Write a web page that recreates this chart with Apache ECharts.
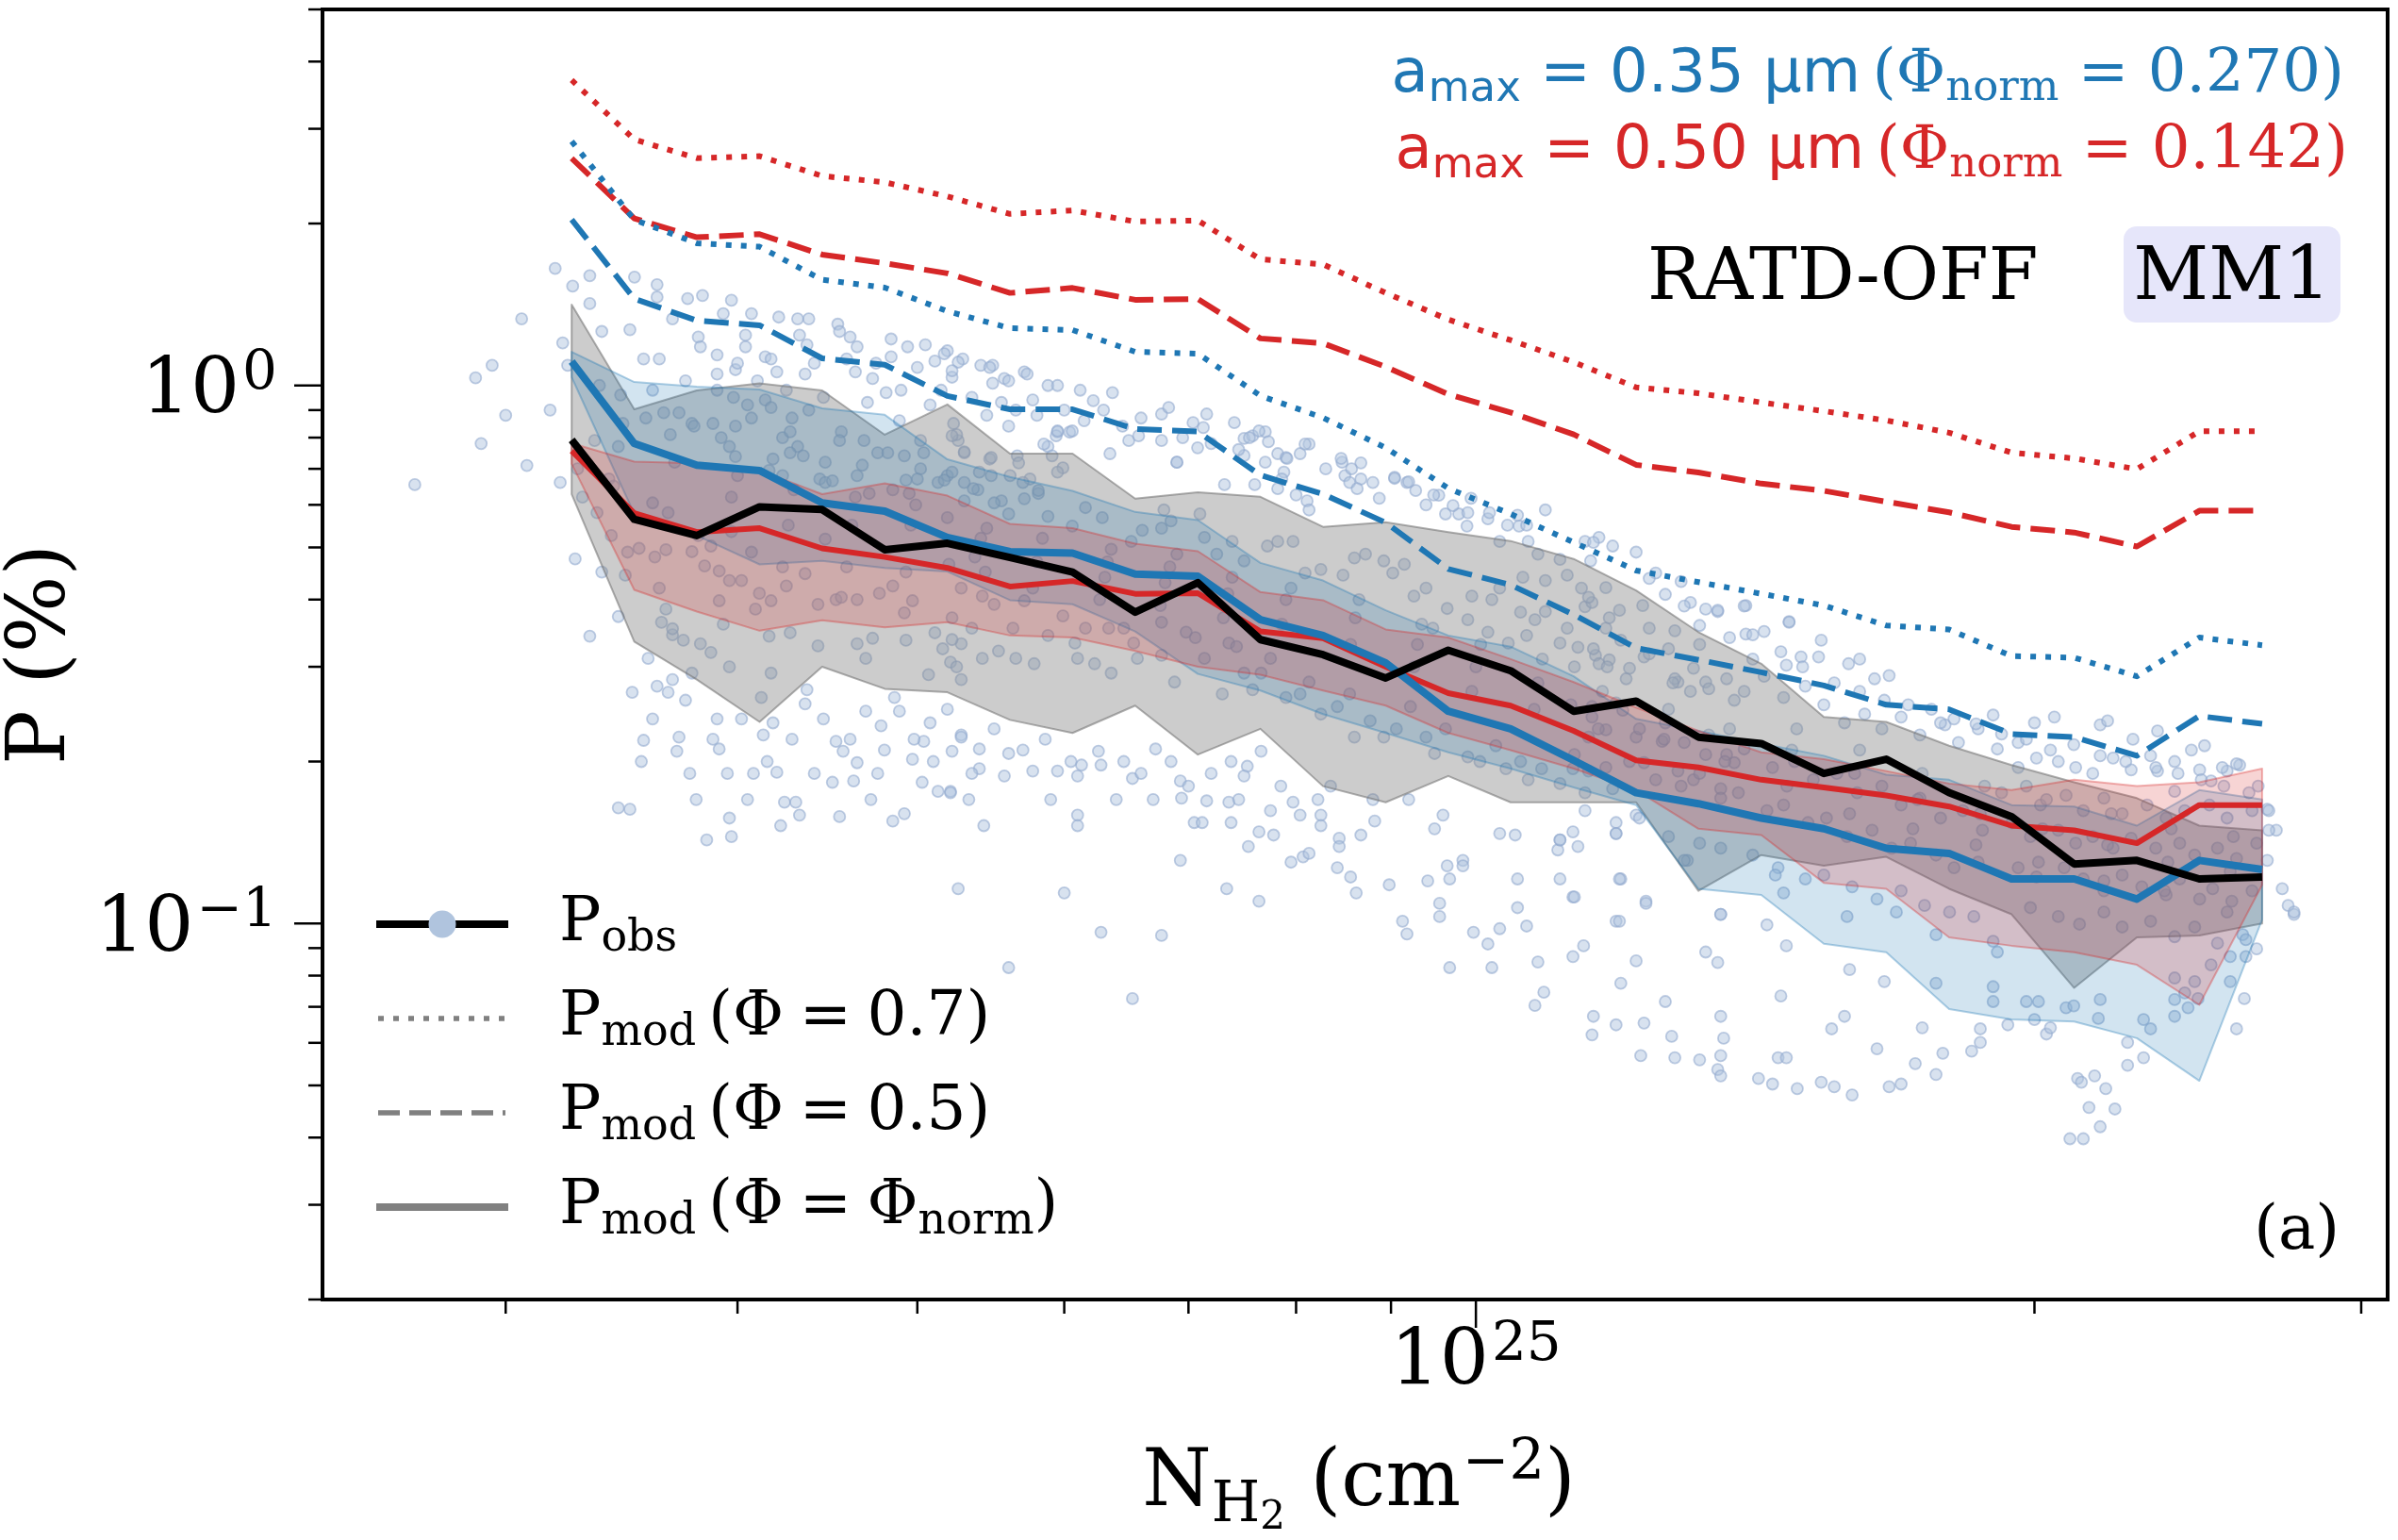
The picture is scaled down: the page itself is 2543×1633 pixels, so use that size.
<!DOCTYPE html>
<html><head><meta charset="utf-8">
<script src="https://cdn.jsdelivr.net/npm/echarts@6/dist/echarts.min.js"></script>
<style>html,body{margin:0;padding:0;background:#fff;}#chart{width:2543px;height:1633px;}</style>
</head><body><div id="chart"></div>
<script>
// ---------------- DATA ----------------
const X_UNIT = 1e24;            // N_H2 values below are in units of 1e24 cm^-2
const X_MIN = 2.39, X_MAX = 31.0;
const Y_MIN = 0.02, Y_MAX = 5;

const xBins = [3.256,3.519,3.803,4.111,4.443,4.802,5.190,5.609,6.062,6.552,7.082,7.654,8.272,8.941,9.663,10.44,11.29,12.20,13.18,14.25,15.40,16.64,17.99,19.44,21.01,22.71,24.54,26.53];

const pObs    = [0.792,0.564,0.526,0.595,0.588,0.495,0.509,0.479,0.450,0.379,0.430,0.337,0.316,0.286,0.322,0.295,0.248,0.259,0.222,0.216,0.190,0.202,0.175,0.158,0.129,0.131,0.121,0.122];
const pObsLo  = [0.628,0.334,0.284,0.237,0.300,0.273,0.269,0.239,0.226,0.254,0.206,0.230,0.180,0.168,0.188,0.168,0.168,0.168,0.115,0.134,0.128,0.133,0.116,0.104,0.0759,0.0942,0.0950,0.100];
const pObsHi  = [1.414,0.903,0.979,1.009,0.979,0.810,0.922,0.747,0.747,0.616,0.633,0.621,0.546,0.557,0.534,0.514,0.476,0.416,0.348,0.304,0.242,0.237,0.214,0.197,0.183,0.171,0.152,0.149];

const pModBlueNorm = [1.108,0.780,0.711,0.695,0.605,0.584,0.522,0.491,0.488,0.446,0.442,0.367,0.343,0.305,0.248,0.230,0.201,0.175,0.167,0.157,0.150,0.138,0.135,0.121,0.121,0.111,0.131,0.126];
const pModBlueLo   = [1.036,0.577,0.526,0.465,0.472,0.458,0.451,0.399,0.392,0.349,0.291,0.271,0.245,0.226,0.208,0.194,0.179,0.166,0.116,0.113,0.0917,0.0884,0.0693,0.0663,0.0657,0.0612,0.0510,0.1017];
const pModBlueHi   = [1.155,1.015,0.995,0.983,0.907,0.882,0.729,0.676,0.637,0.582,0.562,0.468,0.434,0.382,0.343,0.327,0.288,0.240,0.228,0.216,0.205,0.189,0.185,0.166,0.165,0.152,0.177,0.170];
const pModBlue07   = [2.842,2.033,1.838,1.811,1.572,1.520,1.374,1.278,1.268,1.155,1.146,0.957,0.871,0.766,0.644,0.577,0.511,0.453,0.431,0.410,0.390,0.358,0.352,0.314,0.312,0.288,0.340,0.329];
const pModBlue05   = [2.033,1.450,1.320,1.294,1.123,1.093,0.956,0.903,0.903,0.830,0.821,0.681,0.628,0.556,0.456,0.426,0.375,0.325,0.309,0.293,0.277,0.255,0.250,0.225,0.222,0.205,0.243,0.235];

const pModRedNorm = [0.756,0.579,0.534,0.543,0.498,0.480,0.458,0.423,0.433,0.410,0.411,0.349,0.339,0.300,0.268,0.254,0.228,0.201,0.195,0.185,0.179,0.173,0.165,0.152,0.149,0.141,0.166,0.166];
const pModRedLo   = [0.715,0.417,0.380,0.350,0.366,0.355,0.363,0.343,0.340,0.321,0.300,0.290,0.271,0.254,0.226,0.210,0.194,0.177,0.150,0.146,0.119,0.116,0.0942,0.0909,0.0884,0.0838,0.0706,0.118];
const pModRedHi   = [0.781,0.722,0.717,0.695,0.628,0.658,0.624,0.553,0.543,0.508,0.492,0.413,0.399,0.352,0.340,0.310,0.281,0.252,0.228,0.208,0.202,0.192,0.182,0.177,0.185,0.180,0.183,0.194];
const pModRed07   = [3.695,2.865,2.646,2.668,2.451,2.386,2.246,2.084,2.115,2.017,2.026,1.716,1.679,1.486,1.326,1.214,1.105,0.992,0.967,0.930,0.896,0.861,0.817,0.750,0.732,0.699,0.822,0.822];
const pModRed05   = [2.643,2.044,1.886,1.911,1.751,1.687,1.616,1.486,1.518,1.443,1.448,1.223,1.198,1.083,0.963,0.891,0.811,0.712,0.689,0.657,0.637,0.608,0.581,0.546,0.533,0.502,0.585,0.585];

// observed pixels [N_H2 (1e24 cm^-2), P (%)]
const obsPoints = [
[2.68,0.654],[2.91,0.78],[2.89,1.033],[2.95,1.09],[3.06,1.33],[3.0,0.88],[3.08,0.71],[3.17,0.90],[3.19,1.65],[3.21,0.66],[3.22,1.2],[3.26,1.53],[3.33,1.6],[3.33,1.42],[3.24,1.09],[3.38,1.26],[3.5,1.27],[3.52,1.59],[3.62,1.54],[3.62,1.46],[3.69,1.33],[3.76,1.45],[3.83,1.47],[3.56,1.12],[3.63,1.12],[3.81,1.23],[3.82,1.18],[3.9,1.14],[3.9,1.05],[3.93,1.36],[3.97,1.44],[3.99,1.07],[4.04,1.24],[4.04,1.18],[4.07,1.36],[4.14,1.13],[4.17,1.12],[4.2,1.06],[4.21,1.34],[4.31,1.33],[4.37,1.33],[4.32,1.24],[4.36,1.19],[4.35,1.05],[4.53,1.3],[4.54,1.26],[4.6,1.23],[4.64,1.18],[4.63,1.06],[4.73,1.03],[4.84,1.22],[4.84,1.13],[4.94,1.18],[5.05,1.19],[5.11,1.11],[5.19,1.16],[5.22,1.036],[5.29,1.12],[5.41,1.09],[5.49,1.09],[5.49,1.01],[5.57,1.03],[5.6,0.84],[5.71,1.06],[5.77,0.94],[5.88,1.0],[5.88,0.77],[5.95,0.82],
[3.37,1.0],[3.46,0.96],[3.35,0.79],[3.45,0.77],[3.57,0.87],[3.65,0.89],[3.72,0.89],[3.68,0.81],[3.78,0.85],[3.79,0.84],[3.88,0.85],[3.92,0.80],[3.98,0.95],[3.96,0.77],[3.99,0.84],[4.05,0.92],[4.07,0.87],[4.14,0.94],[4.17,0.91],[4.23,0.80],[4.28,0.87],[4.27,0.82],[4.31,0.77],[4.34,0.74],[4.37,0.90],[4.18,0.73],[4.23,0.68],[4.43,0.67],[4.46,0.66],[4.55,0.82],[4.54,0.79],[4.68,0.79],[4.76,0.75],[4.81,0.97],[4.92,0.74],[5.02,0.79],[5.02,0.70],[5.13,0.66],[5.19,0.68],[5.3,0.75],[5.39,0.64],[5.47,0.73],[5.55,0.61],[5.61,0.68],[5.75,0.67],[5.81,0.63],[5.91,0.74],[5.66,0.74],[5.23,0.85],[5.26,0.79],[4.89,0.86],[4.64,0.68],[4.46,0.72],[4.71,0.63],[4.85,0.64],[4.95,0.63],[5.0,0.67],
[3.27,0.476],[3.33,0.342],[3.45,0.372],[3.48,0.444],[3.51,0.269],[3.56,0.219],[3.58,0.311],[3.45,0.164],[3.5,0.163],[3.62,0.276],[3.67,0.269],[3.69,0.284],[3.71,0.209],[3.72,0.222],[3.64,0.363],[3.69,0.344],[3.74,0.336],[3.82,0.331],[3.77,0.19],[3.78,0.292],[3.87,0.319],[3.9,0.24],[3.91,0.211],[3.95,0.19],[3.96,0.30],[3.96,0.157],[3.97,0.145],[3.85,0.143],[4.08,0.19],[4.12,0.263],[4.13,0.224],[4.17,0.292],[4.18,0.236],[4.2,0.191],[4.24,0.168],[4.3,0.168],[4.22,0.152],[4.32,0.159],[4.36,0.272],[4.35,0.256],[4.42,0.328],[4.52,0.218],[4.56,0.209],[4.5,0.183],[4.54,0.158],[4.62,0.184],[4.64,0.199],[4.69,0.311],[4.69,0.248],[4.76,0.19],[4.78,0.233],[4.85,0.155],[4.86,0.263],[4.89,0.248],[4.92,0.16],[4.97,0.202],[5.03,0.183],[5.04,0.218],[5.08,0.236],[5.13,0.176],[5.21,0.176],[5.22,0.209],[5.28,0.224],[5.28,0.284],[5.19,0.25],
[3.42,0.526],[3.49,0.49],[3.54,0.498],[3.6,0.605],[3.61,0.48],[3.66,0.495],[3.66,0.384],[3.69,0.353],[3.78,0.491],[3.81,0.526],[3.84,0.462],[3.87,0.503],[3.91,0.452],[3.91,0.398],[3.96,0.434],[3.97,0.535],[4.02,0.434],[4.07,0.49],[4.09,0.384],[4.11,0.411],[4.16,0.342],[4.17,0.398],[4.25,0.424],[4.27,0.347],[4.35,0.447],[4.42,0.392],[4.46,0.518],[4.52,0.40],[4.55,0.404],[4.64,0.331],[4.64,0.40],[4.73,0.339],[4.77,0.411],[4.85,0.424],[4.92,0.378],[4.93,0.336],[4.97,0.398],[5.07,0.29],[5.11,0.347],[5.16,0.324],[5.22,0.37],[5.28,0.331],[5.21,0.306],[5.25,0.30],
[3.99,0.738],[4.16,0.695],[4.27,0.75],[4.5,0.665],[4.67,0.711],[4.82,0.75],[4.93,0.667],[5.17,0.667],[5.04,0.75],[5.25,0.81],[3.3,0.62],[3.36,0.58],[3.41,0.67],[3.28,0.7],
[5.22,0.806],[5.3,0.753],[5.48,0.735],[5.67,0.718],[5.22,0.69],[5.4,0.69],[5.3,0.66],[5.48,0.68],[5.7,0.66],[5.94,0.806],[5.85,0.778],[6.04,0.819],[5.99,0.703],[5.95,0.69],[6.35,0.747],[6.5,0.79],[6.77,0.79],[6.9,0.72],[7.08,0.766],[7.32,0.654],[7.5,0.797],[7.58,0.806],[7.7,0.82],[7.5,0.741],[7.82,0.747],[7.9,0.735],[8.04,0.747],[8.13,0.778],[7.88,0.69],[7.86,0.67],[8.11,0.61],[8.13,0.587],[8.47,0.72],[8.5,0.68],[8.67,0.718],[8.67,0.67],[8.55,0.66],[9.04,0.675],[9.18,0.66],[9.55,0.625],[9.28,0.638],[9.63,0.577],[9.79,0.577],[9.89,0.548],[10.15,0.565],[10.3,0.513],[10.55,0.548],[10.67,0.513],[10.8,0.486],[10.9,0.587],[11.1,0.475],[11.45,0.513],[11.53,0.472],[11.65,0.522],
[5.19,0.568],[5.3,0.61],[5.36,0.643],[5.5,0.605],[5.45,0.543],[5.6,0.577],[5.71,0.616],[5.81,0.638],[5.88,0.571],[6.06,0.548],[6.16,0.593],[6.29,0.568],[6.36,0.496],[6.52,0.513],[6.61,0.538],[6.77,0.543],[6.79,0.587],[6.85,0.56],[6.9,0.486],[7.1,0.577],[7.14,0.522],[7.25,0.486],[7.39,0.513],[7.5,0.472],[7.72,0.503],[7.82,0.513],[7.97,0.513],[8.09,0.448],[8.25,0.455],[8.48,0.444],[8.6,0.478],[8.72,0.486],[8.92,0.472],[9.02,0.448],[9.15,0.465],[9.26,0.406],[9.4,0.42],[9.48,0.354],[9.65,0.385],[9.9,0.367],[9.95,0.406],[10.15,0.348],[10.3,0.42],[10.41,0.332],[10.57,0.379],[10.65,0.343],[10.76,0.367],[10.9,0.434],[11.1,0.332],[11.2,0.354],[11.3,0.30],[11.45,0.388],[11.6,0.315],[11.55,0.253],
[5.2,0.465],[5.28,0.42],[5.42,0.406],[5.22,0.337],[5.35,0.354],[5.5,0.392],[5.42,0.311],[5.63,0.354],[5.71,0.398],[5.53,0.321],[5.65,0.311],[5.78,0.304],[5.88,0.343],[5.99,0.373],[6.08,0.332],[6.1,0.311],[6.16,0.354],[6.23,0.304],[6.34,0.354],[6.36,0.292],[6.46,0.354],[6.54,0.332],[6.57,0.311],[6.77,0.363],[6.77,0.315],[6.88,0.281],[6.98,0.348],[7.06,0.34],[7.14,0.311],[7.3,0.267],[7.36,0.332],[7.43,0.327],[7.5,0.292],[7.58,0.272],[7.66,0.292],[7.75,0.311],[7.9,0.263],[8.04,0.267],[8.13,0.281],[8.25,0.245],[8.42,0.253],[8.55,0.267],[8.6,0.222],[8.77,0.238],[8.92,0.222],[9.06,0.23],[9.22,0.253],[9.4,0.222],[9.5,0.207],[9.63,0.23],[9.9,0.204],[10.05,0.2],[10.25,0.214],[10.38,0.194],[10.57,0.2],[10.67,0.185],[10.85,0.194],[11.1,0.182],[11.28,0.194],[11.45,0.175],
[5.28,0.222],[5.4,0.211],[5.6,0.207],[5.21,0.175],[5.33,0.170],[5.43,0.152],[5.4,0.194],[5.57,0.188],[5.77,0.192],[5.86,0.22],[5.95,0.192],[6.1,0.188],[6.13,0.197],[6.26,0.209],[6.28,0.197],[6.53,0.186],[6.72,0.211],[6.7,0.170],[6.1,0.159],[6.1,0.152],[6.46,0.2],[6.93,0.184],[6.94,0.171],[7.05,0.154],[7.12,0.154],[7.16,0.169],[7.36,0.168],[7.38,0.154],[7.38,0.2],[7.53,0.196],[7.5,0.188],[7.66,0.209],[7.54,0.139],[7.64,0.148],[7.78,0.146],[7.75,0.162],[7.97,0.168],[8.04,0.159],[8.22,0.170],[8.25,0.159],[8.25,0.152],[7.95,0.130],[8.07,0.133],[8.13,0.135],[8.42,0.127],[8.56,0.122],[8.62,0.114],[8.44,0.144],[8.44,0.139],[8.67,0.146],[8.82,0.155],[8.98,0.118],[9.13,0.101],[9.18,0.0956],[9.42,0.12],[9.56,0.109],[9.56,0.103],[9.68,0.121],[9.84,0.131],[9.6,0.159],[9.68,0.0828],[9.97,0.0963],[10.15,0.0916],[10.2,0.0828],[10.3,0.0978],[10.53,0.121],[10.53,0.107],[10.65,0.0989],[10.8,0.0848],[10.88,0.0745],[10.76,0.0704],[11.1,0.121],[11.28,0.112],[11.43,0.0909],[11.28,0.0868],[11.07,0.137],[11.28,0.148],[11.1,0.143],[10.3,0.147],[10.5,0.146],[9.84,0.128],[9.65,0.128],
[5.26,0.116],[5.6,0.0828],[6.0,0.114],[6.28,0.0963],[6.77,0.095],[6.53,0.0725],[6.93,0.131],[7.34,0.116],[7.64,0.11],
[5.17,1.145],[5.26,1.105],[5.22,1.065],[5.47,1.08],[5.73,1.05],[5.6,1.02],[5.95,1.0],[6.12,0.98],[6.22,0.937],[6.37,0.97],[5.95,0.823],[6.06,0.823],[6.58,0.806],[6.77,0.885],[6.83,0.91],[7.04,0.853],[7.16,0.885],[7.13,0.835],[6.9,0.72],[7.41,0.853],[7.55,0.8],[7.64,0.823],[7.73,0.786],[7.91,0.732],[8.09,0.778],[8.46,0.732],[8.57,0.7],[8.63,0.643],[8.87,0.617],[9.04,0.672],[9.2,0.662],[9.49,0.626],[9.72,0.598],[9.94,0.617],[10.17,0.58],[10.53,0.574],[10.65,0.55],[7.82,0.643],[8.0,0.626],[7.6,0.654],
[11.57,0.511],[11.85,0.503],[12.2,0.49],[12.5,0.448],[12.9,0.432],[13.3,0.384],[13.5,0.38],[13.05,0.395],[13.98,0.39],[14.75,0.364],[13.98,0.345],[14.3,0.349],[15.35,0.336],[14.97,0.313],[15.3,0.313],[14.7,0.302],[15.88,0.304],[16.1,0.31],[16.4,0.285],[16.7,0.289],[17.9,0.234],[19.0,0.244],[20.0,0.236],[20.5,0.242],[21.7,0.234],[21.9,0.238],[23.3,0.228],[24.3,0.21],[24.7,0.214],[25.4,0.192],[25.8,0.197],[22.6,0.22],[23.3,0.192],[23.8,0.176],[24.9,0.184],
[11.55,0.395],[11.75,0.354],[11.97,0.336],[11.57,0.324],[11.65,0.304],[12.05,0.285],[12.4,0.354],[12.32,0.313],[12.7,0.324],[12.85,0.281],[13.05,0.27],[13.3,0.281],[11.9,0.257],[11.5,0.222],[11.75,0.229],[12.2,0.222],[12.6,0.218],[12.32,0.199],[12.85,0.192],[13.1,0.185],[13.55,0.178],[13.3,0.206],[13.78,0.199],[11.5,0.192],[11.85,0.178],[12.2,0.159],[11.9,0.147],[12.35,0.11],[11.97,0.121],[11.9,0.101],[12.2,0.0852],[11.97,0.0774],[12.65,0.0716],[11.57,0.0672],[11.9,0.0648],[12.32,0.0653],[11.55,0.0621],[12.27,0.0568],[12.75,0.0617],[12.8,0.0563],[13.2,0.0558],[13.55,0.0672],[13.6,0.0612],[13.55,0.0568],[13.5,0.0535],[13.55,0.0521],[13.0,0.131],[13.55,0.104],[13.3,0.0885],[13.5,0.0846],[14.35,0.0994],[14.7,0.0909],[14.2,0.0515],[14.45,0.0503],[14.55,0.0563],[14.7,0.0563],[14.6,0.0733],[14.9,0.0493],[15.35,0.0507],[15.6,0.0497],[15.95,0.048],[15.8,0.0672],[15.55,0.0637],[15.9,0.0821],[16.45,0.0585],[16.6,0.078],[16.7,0.0497],[16.95,0.0503],[17.25,0.0549],[17.4,0.064],[17.7,0.0774],[17.7,0.0524],[17.85,0.0574],[18.5,0.0579],[18.7,0.0637],[18.7,0.0601],[19.0,0.0763],[19.0,0.0716],[19.0,0.0927],[19.1,0.0885],[19.35,0.0648],[19.8,0.0716],[20.1,0.0716],[20.0,0.0663],[20.3,0.0623],[20.4,0.064],[20.8,0.0697],[21.0,0.0703],[21.1,0.0515],[21.2,0.0507],[21.55,0.0521],[21.4,0.0455],[21.85,0.0493],[22.1,0.0452],[21.7,0.0419],[20.9,0.0398],[21.25,0.0398],[21.65,0.0666],[21.7,0.0722],[22.45,0.0601],[22.45,0.0545],[22.9,0.0563],[23.1,0.0637],[22.9,0.0663],[23.8,0.0672],[24.2,0.0697],[24.5,0.0725],[24.4,0.078],[23.8,0.0722],
[19.6,0.195],[20.05,0.203],[20.6,0.2],[21.05,0.195],[21.5,0.19],[22.05,0.203],[22.55,0.193],[23.25,0.195],[23.8,0.2],[24.55,0.193],[25.25,0.195],[25.7,0.198],[26.4,0.18],
[19.2,0.175],[19.8,0.18],[20.15,0.166],[20.8,0.173],[21.25,0.162],[21.8,0.171],[22.3,0.16],[23.0,0.166],[23.55,0.157],[24.1,0.162],[24.85,0.166],[25.4,0.157],[26.2,0.162],
[19.45,0.154],[19.9,0.145],[20.6,0.149],[21.05,0.141],[21.5,0.145],[22.05,0.138],[22.55,0.144],[23.25,0.138],[23.95,0.141],[24.4,0.134],[25.1,0.138],[25.7,0.132],[26.35,0.141],
[19.6,0.127],[20.05,0.122],[20.75,0.127],[21.25,0.121],[21.8,0.115],[22.3,0.123],[22.85,0.117],[23.55,0.113],[23.95,0.121],[24.55,0.111],[24.95,0.116],[25.55,0.11],[26.2,0.115],
[19.9,0.107],[20.6,0.103],[21.15,0.0997],[21.8,0.105],[22.3,0.0985],[23.1,0.101],[23.8,0.0945],[24.4,0.0985],[25.1,0.0919],[25.9,0.0953],[26.35,0.0897],
[23.8,0.0792],[24.1,0.0743],[24.9,0.0838],[25.5,0.0868],[25.5,0.078],[26.0,0.0933],[26.0,0.0868],[25.95,0.0725],[25.7,0.0637],
[26.7,0.163],[27.0,0.149],[26.7,0.131],[27.2,0.116],[27.4,0.108],[27.6,0.104],[27.6,0.105],[26.75,0.162],[26.75,0.149],
[11.2,0.444],[11.5,0.404],[11.75,0.421],[11.95,0.382],[12.4,0.438],[12.65,0.409],[12.95,0.389],[13.2,0.358],[13.5,0.382],[13.95,0.389],[14.1,0.344],[14.75,0.363],[11.35,0.326],[11.8,0.309],[12.1,0.298],[12.4,0.317],[12.8,0.285],[13.1,0.298],[13.35,0.273],[13.65,0.285],[13.95,0.27],[14.3,0.288],[14.65,0.263],[15.05,0.276],[15.4,0.255],[15.8,0.236],[16.2,0.245],[16.55,0.23],[16.95,0.242],[17.35,0.224],[17.8,0.236],[18.2,0.217],[18.65,0.23],[19.1,0.211],[19.6,0.217],
[11.25,0.255],[11.55,0.242],[12.0,0.249],[12.25,0.23],[12.65,0.236],[12.95,0.217],[13.35,0.224],[13.65,0.206],[13.95,0.211],[14.45,0.195],[14.85,0.2],[15.2,0.185],[15.65,0.19],[16.05,0.175],[16.55,0.18],[16.95,0.166],[17.35,0.171],[17.8,0.157],[18.3,0.162],[18.75,0.149],
[11.3,0.206],[11.75,0.195],[12.1,0.2],[12.5,0.185],[12.9,0.18],[13.2,0.19],[13.55,0.171],[13.85,0.175],[14.35,0.162],[14.65,0.166],[15.1,0.154],[15.45,0.157],[15.85,0.145],[16.35,0.149],[16.75,0.138],[17.15,0.141],[17.7,0.134],[18.1,0.127],[18.65,0.13],
[11.45,0.162],[11.9,0.154],[12.25,0.157],[12.7,0.145],[13.2,0.141],[13.55,0.138],[14.1,0.134],[14.55,0.127],[15.05,0.121],[15.4,0.123],[15.95,0.117],[16.45,0.111],[16.95,0.115],[17.45,0.108],[18.0,0.105],[18.55,0.103],
[11.1,0.143],[11.35,0.139],[11.9,0.147],[11.3,0.112],[11.95,0.121],[12.35,0.109],[11.95,0.101],[12.95,0.131],[13.55,0.104],[14.5,0.123],[14.65,0.114],[15.85,0.103],[16.85,0.105],[17.7,0.0953],
[3.38,0.45],[3.43,0.65],[3.47,0.85],[3.63,0.42],[3.67,0.58],[3.7,0.72],[3.93,0.36],[3.97,0.62],[4.0,0.68],[4.23,0.46],[4.26,0.55],[4.29,0.64],[4.58,0.46],[4.61,0.55],[4.63,0.62],[4.93,0.45],[4.96,0.55],[4.99,0.60],[5.37,0.48],[5.41,0.52],[5.44,0.45],[5.77,0.42],[5.8,0.47],[5.84,0.52],[6.27,0.40],[6.31,0.44],[6.33,0.47],[6.76,0.39],[6.8,0.43],[6.84,0.46],[7.31,0.37],[7.35,0.41],[7.39,0.44],[7.86,0.36],[7.9,0.40],[7.95,0.42],[8.56,0.33],[8.61,0.37],[8.65,0.40],[9.26,0.30],[9.3,0.33],[9.35,0.36],[9.95,0.27],[10.0,0.30],[10.06,0.33],[10.75,0.25],[10.8,0.28],[10.86,0.31],[11.64,0.23],[11.7,0.27],[11.77,0.30],[12.63,0.22],[12.7,0.25],[12.77,0.28],[13.62,0.20],[13.7,0.23],[13.78,0.26],[14.71,0.18],[14.8,0.21],[14.89,0.23],[15.9,0.16],[16.0,0.19],[16.1,0.21],[17.2,0.15],[17.3,0.17],[17.4,0.19],[18.6,0.14],[18.7,0.16],[18.8,0.18],[20.1,0.13],[20.2,0.15],[20.3,0.17],[21.8,0.12],[21.9,0.14],[22.0,0.16],[23.5,0.115],[23.6,0.13],[23.7,0.15],[25.4,0.105],[25.5,0.125],[25.6,0.145],
[4.1,1.02],[4.25,0.98],[4.4,1.1],[4.45,0.95],[4.58,1.12],[4.7,0.93],[4.75,1.1],[4.9,0.98],[5.0,1.08],[5.08,0.92],[5.15,0.98],[5.35,0.95],[5.45,0.88],[5.55,0.93],[5.65,0.9],[5.8,0.88],[6.0,0.9],[6.15,0.86],[6.3,0.9],[6.45,0.84],[6.6,0.87],[6.95,0.8],[7.2,0.78],[7.45,0.76],[7.7,0.72],[8.3,0.7],[8.8,0.66],[9.4,0.6],[9.9,0.58],[10.4,0.55],[3.9,0.98],[4.0,1.1],[3.75,1.02],[3.6,0.98],
[3.55,0.2],[3.6,0.24],[3.75,0.26],[3.8,0.17],[3.88,0.22],[4.02,0.24],[4.05,0.17],[4.15,0.2],[4.28,0.22],[4.4,0.19],[4.45,0.24],[4.6,0.22],[4.72,0.17],[4.8,0.21],[4.98,0.22],[5.1,0.2],[5.35,0.19],[5.5,0.23],[5.7,0.21],[5.9,0.17],[6.05,0.2],[6.4,0.17],[6.6,0.19],[6.85,0.2],[7.0,0.18],[7.2,0.19],[7.45,0.17],[7.85,0.18],[8.35,0.18],[8.8,0.17],[9.2,0.17],[9.5,0.15],
[10.2,0.4],[10.6,0.44],[10.9,0.38],[11.4,0.42],[11.8,0.37],[12.3,0.39],[12.8,0.35],[13.2,0.33],[13.7,0.34],[14.1,0.31],[14.6,0.32],[15.0,0.3],[15.6,0.28],[16.1,0.27],[16.6,0.26],[17.1,0.255],[17.6,0.25],[18.1,0.24],[18.6,0.235],[19.2,0.225],[19.8,0.22],[20.4,0.21],[21.0,0.215],[21.7,0.205],[22.4,0.2],[23.1,0.205],[23.9,0.19],[24.6,0.185],[25.3,0.18],[26.1,0.175]
];

// axis ticks (in axis units; x in 1e24 cm^-2)
const xMajorTicks = [10];
const xMinorTicks = [3,4,5,6,7,8,9,20,30];
const yMajorTicks = [0.1,1];
const yMinorTicks = [0.02,0.03,0.04,0.05,0.06,0.07,0.08,0.09,0.2,0.3,0.4,0.5,0.6,0.7,0.8,0.9,2,3,4,5];

// ---------------- STYLE ----------------
const SERIF = '"DejaVu Serif", serif';
const SANS = '"DejaVu Sans", sans-serif';
const C_BLUE = '#1f77b4', C_RED = '#d62728';

const chart = echarts.init(document.getElementById('chart'), null, {renderer: 'canvas'});

function pairs(ys) { return xBins.map((x, i) => [x * X_UNIT, ys[i]]); }

function lineSeries(name, ys, color, width, type, z) {
  return {type: 'line', name, data: pairs(ys), symbol: 'none', silent: true, z: z || 4,
    lineStyle: {color, width, type: type || 'solid', cap: 'butt', join: 'round'}};
}

function bandSeries(name, lo, hi, fill, stroke) {
  return {type: 'custom', name, z: 3, silent: true, clip: true,
    data: [[xBins[0] * X_UNIT, lo[0]]],
    renderItem: function (params, api) {
      const pts = [];
      for (let i = 0; i < xBins.length; i++) pts.push(api.coord([xBins[i] * X_UNIT, hi[i]]));
      for (let i = xBins.length - 1; i >= 0; i--) pts.push(api.coord([xBins[i] * X_UNIT, lo[i]]));
      return {type: 'polygon', shape: {points: pts}, style: {fill, stroke, lineWidth: 2, lineJoin: 'round'}};
    }};
}

function tickSeries(vals, isX, len) {
  return {type: 'custom', z: 10, silent: true, clip: false,
    data: vals.map(v => isX ? [v * X_UNIT, Y_MIN] : [X_MIN * X_UNIT, v]),
    renderItem: function (params, api) {
      const p = api.coord([api.value(0), api.value(1)]);
      const shape = isX ? {x1: p[0], y1: p[1], x2: p[0], y2: p[1] + len}
                        : {x1: p[0] - len, y1: p[1], x2: p[0], y2: p[1]};
      return {type: 'line', shape, style: {stroke: '#000', lineWidth: 2.5}};
    }};
}

function powLabel(v) {
  const e = Math.log10(v), r = Math.round(e);
  if (Math.abs(e - r) > 1e-6) return '';
  const s = r < 0 ? '\u2212' + Math.abs(r) : String(r);
  return '{b|10}{s|' + s + '}';
}
const tickRich = {
  b: {fontFamily: SERIF, fontSize: 82, lineHeight: 82, verticalAlign: 'top', padding: [8, 0, 0, 0], color: '#000'},
  s: {fontFamily: SERIF, fontSize: 58, lineHeight: 58, verticalAlign: 'top', padding: [0, 0, 0, 3], color: '#000'}
};

function annRich(color) {
  return {
    sa: {fontFamily: SANS, fontSize: 64, lineHeight: 64, verticalAlign: 'top', padding: [8, 0, 0, 0], fill: color},
    ss: {fontFamily: SANS, fontSize: 45, lineHeight: 45, verticalAlign: 'top', padding: [33, 0, 0, 0], fill: color},
    ra: {fontFamily: SERIF, fontSize: 64, lineHeight: 64, verticalAlign: 'top', padding: [8, 0, 0, 0], fill: color},
    rs: {fontFamily: SERIF, fontSize: 45, lineHeight: 45, verticalAlign: 'top', padding: [32, 0, 0, 0], fill: color}
  };
}
const legRich = {
  m: {fontFamily: SERIF, fontSize: 66, lineHeight: 66, verticalAlign: 'top', padding: [0, 0, 0, 0], fill: '#000'},
  s: {fontFamily: SERIF, fontSize: 46, lineHeight: 46, verticalAlign: 'top', padding: [26, 0, 0, 0], fill: '#000'}
};
const SP = '\u2005';

const option = {
  animation: false,
  backgroundColor: '#fff',
  grid: {left: 342, top: 10, width: 2190, height: 1368, show: true, borderColor: '#000', borderWidth: 4, backgroundColor: 'transparent'},
  xAxis: {type: 'log', logBase: 10, min: X_MIN * X_UNIT, max: X_MAX * X_UNIT,
    axisLine: {show: false}, axisTick: {show: false}, splitLine: {show: false}, minorTick: {show: false},
    axisLabel: {margin: 20, formatter: powLabel, rich: tickRich, hideOverlap: false}},
  yAxis: {type: 'log', logBase: 10, min: Y_MIN, max: Y_MAX,
    axisLine: {show: false}, axisTick: {show: false}, splitLine: {show: false}, minorTick: {show: false},
    axisLabel: {margin: 48, formatter: powLabel, rich: tickRich, hideOverlap: false}},
  series: [
    {type: 'scatter', name: 'P_obs points', z: 1, silent: true, symbol: 'circle', symbolSize: 12,
      data: obsPoints.map(p => [p[0] * X_UNIT, p[1]]),
      itemStyle: {color: 'rgba(176,196,222,0.62)', borderColor: 'rgba(146,170,206,0.75)', borderWidth: 1.8}},
    bandSeries('obs band', pObsLo, pObsHi, 'rgba(128,128,128,0.4)', 'rgba(110,110,110,0.55)'),
    bandSeries('blue band', pModBlueLo, pModBlueHi, 'rgba(31,119,180,0.2)', 'rgba(31,119,180,0.35)'),
    bandSeries('red band', pModRedLo, pModRedHi, 'rgba(214,39,40,0.2)', 'rgba(214,39,40,0.35)'),
    lineSeries('red 0.7', pModRed07, C_RED, 6, [6, 10]),
    lineSeries('red 0.5', pModRed05, C_RED, 6, [26, 11]),
    lineSeries('blue 0.7', pModBlue07, C_BLUE, 6, [6, 10]),
    lineSeries('blue 0.5', pModBlue05, C_BLUE, 6, [26, 11]),
    lineSeries('red norm', pModRedNorm, C_RED, 6, 'solid', 5),
    lineSeries('blue norm', pModBlueNorm, C_BLUE, 8, 'solid', 5),
    lineSeries('P_obs', pObs, '#000', 8, 'solid', 6),
    tickSeries(xMajorTicks, true, 30),
    tickSeries(xMinorTicks, true, 15),
    tickSeries(yMajorTicks, false, 30),
    tickSeries(yMinorTicks, false, 15)
  ],
  graphic: [
    {type: 'text', x: 46, y: 694, rotation: Math.PI / 2, z: 100,
      style: {text: 'P (%)', fontFamily: SERIF, fontSize: 86, fill: '#000', align: 'center', verticalAlign: 'middle'}},
    {type: 'text', x: 1441, y: 1523, z: 100,
      style: {text: '{m|N}{s|H}{ss|2}{m| (cm}{sup|\u22122}{m|)}', align: 'center', verticalAlign: 'top',
        rich: {
          m: {fontFamily: SERIF, fontSize: 84, lineHeight: 84, verticalAlign: 'top', padding: [9, 0, 0, 0], fill: '#000'},
          s: {fontFamily: SERIF, fontSize: 59, lineHeight: 59, verticalAlign: 'top', padding: [45, 0, 0, 0], fill: '#000'},
          ss: {fontFamily: SERIF, fontSize: 42, lineHeight: 42, verticalAlign: 'top', padding: [66, 0, 0, 0], fill: '#000'},
          sup: {fontFamily: SERIF, fontSize: 59, lineHeight: 59, verticalAlign: 'top', padding: [0, 0, 0, 2], fill: '#000'}
        }}},
    // annotations
    {type: 'text', x: 2486, y: 40, z: 100,
      style: {text: '{sa|a}{ss|max}{sa| = 0.35 \u00b5m\u2009}{ra|(\u03a6}{rs|norm}{ra| = 0.270)}', align: 'right', verticalAlign: 'top', rich: annRich(C_BLUE)}},
    {type: 'text', x: 2490, y: 121, z: 100,
      style: {text: '{sa|a}{ss|max}{sa| = 0.50 \u00b5m\u2009}{ra|(\u03a6}{rs|norm}{ra| = 0.142)}', align: 'right', verticalAlign: 'top', rich: annRich(C_RED)}},
    {type: 'text', x: 1747, y: 297, z: 100,
      style: {text: 'RATD-OFF', fontFamily: SERIF, fontSize: 76, fill: '#000', align: 'left', verticalAlign: 'middle'}},
    {type: 'rect', z: 99, shape: {x: 2252, y: 240, width: 230, height: 102, r: 14}, style: {fill: '#e6e6fa'}},
    {type: 'text', x: 2367, y: 297, z: 100,
      style: {text: 'MM1', fontFamily: SERIF, fontSize: 78, fill: '#000', align: 'center', verticalAlign: 'middle'}},
    {type: 'text', x: 2481, y: 1307, z: 100,
      style: {text: '(a)', fontFamily: SERIF, fontSize: 66, fill: '#000', align: 'right', verticalAlign: 'middle'}},
    // legend
    {type: 'line', z: 100, shape: {x1: 399, y1: 980, x2: 539, y2: 980}, style: {stroke: '#000', lineWidth: 8}},
    {type: 'circle', z: 101, shape: {cx: 469, cy: 980, r: 14.5}, style: {fill: '#b0c4de'}},
    {type: 'line', z: 100, shape: {x1: 401, y1: 1080, x2: 536, y2: 1080}, style: {stroke: '#808080', lineWidth: 5.5, lineDash: [6, 10]}},
    {type: 'line', z: 100, shape: {x1: 401, y1: 1180, x2: 536, y2: 1180}, style: {stroke: '#808080', lineWidth: 5.5, lineDash: [23, 10]}},
    {type: 'line', z: 100, shape: {x1: 399, y1: 1280, x2: 539, y2: 1280}, style: {stroke: '#808080', lineWidth: 8}},
    {type: 'text', x: 593, y: 947, z: 100, style: {text: '{m|P}{s|obs}', align: 'left', verticalAlign: 'top', rich: legRich}},
    {type: 'text', x: 593, y: 1047, z: 100, style: {text: '{m|P}{s|mod}{m|\u2009(\u03a6' + SP + '=' + SP + '0.7)}', align: 'left', verticalAlign: 'top', rich: legRich}},
    {type: 'text', x: 593, y: 1147, z: 100, style: {text: '{m|P}{s|mod}{m|\u2009(\u03a6' + SP + '=' + SP + '0.5)}', align: 'left', verticalAlign: 'top', rich: legRich}},
    {type: 'text', x: 593, y: 1247, z: 100, style: {text: '{m|P}{s|mod}{m|\u2009(\u03a6' + SP + '=' + SP + '\u03a6}{s|norm}{m|)}', align: 'left', verticalAlign: 'top', rich: legRich}}
  ]
};
chart.setOption(option);
</script>
</body></html>
